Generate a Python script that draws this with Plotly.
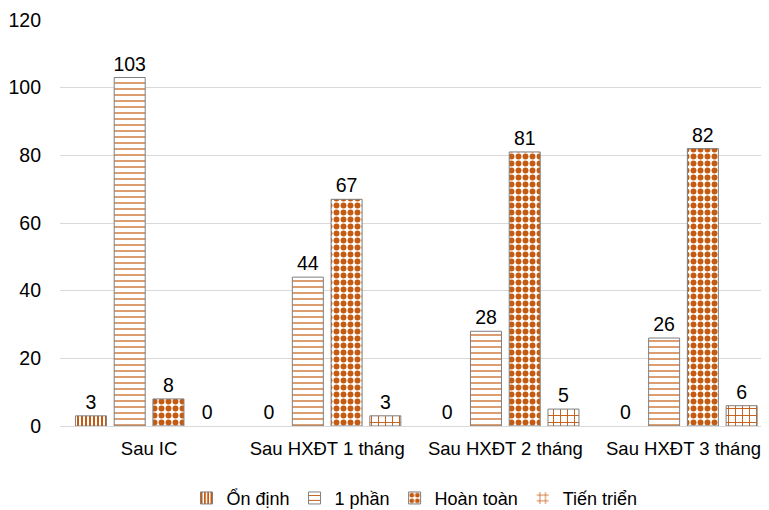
import plotly.graph_objects as go

categories = ["Sau IC", "Sau HXĐT 1 tháng", "Sau HXĐT 2 tháng", "Sau HXĐT 3 tháng"]
series_names = ["Ổn định", "1 phần", "Hoàn toàn", "Tiến triển"]
on_dinh = [3, 0, 0, 0]
mot_phan = [103, 44, 28, 26]
hoan_toan = [8, 67, 81, 82]
tien_trien = [0, 3, 5, 6]
y_ticks = [0, 20, 40, 60, 80, 100, 120]

orange = "#C55A11"
patterns = [
    dict(shape="|", size=4, solidity=0.5),
    dict(shape="-", size=6, solidity=0.2),
    dict(shape=".", size=7, solidity=0.55),
    dict(shape="+", size=7, solidity=0.25),
]

# page body has an 8px margin; figure is sized so the page matches 769x510
fig = go.Figure()
for name, vals, pat in zip(series_names, [on_dinh, mot_phan, hoan_toan, tien_trien], patterns):
    fig.add_trace(go.Bar(
        name=name, x=categories, y=vals,
        text=vals, textposition="outside", cliponaxis=False, constraintext="none",
        textfont=dict(size=19.5, color="#000000"),
        marker=dict(color="white",
                    line=dict(color="#7f7f7f", width=[1 if v > 0 else 0 for v in vals]),
                    pattern=dict(fgcolor=orange, bgcolor="white", fillmode="replace", **pat)),
    ))

fig.update_layout(
    width=761, height=502,
    margin=dict(l=52, r=0, t=12, b=84, autoexpand=False),
    plot_bgcolor="white", paper_bgcolor="white",
    font=dict(family="Liberation Sans, Arial", size=18.5, color="#000000"),
    barmode="group", bargap=0.13, bargroupgap=0.2,
    showlegend=True,
    legend=dict(orientation="h", x=0.5, xanchor="center", y=-0.178, yanchor="middle",
                font=dict(size=18), itemwidth=30, traceorder="normal"),
    xaxis=dict(range=[-0.5, 3.48], showline=True, linecolor="#d9d9d9", linewidth=1,
               ticks="", tickfont=dict(size=18.5), ticklabelstandoff=6),
    yaxis=dict(range=[0, 120], tickvals=y_ticks, showgrid=True, gridcolor="#d9d9d9",
               gridwidth=1, zeroline=False, tickfont=dict(size=19.5), ticks="",
               ticklabelstandoff=18),
)

fig.write_html("out.html")
